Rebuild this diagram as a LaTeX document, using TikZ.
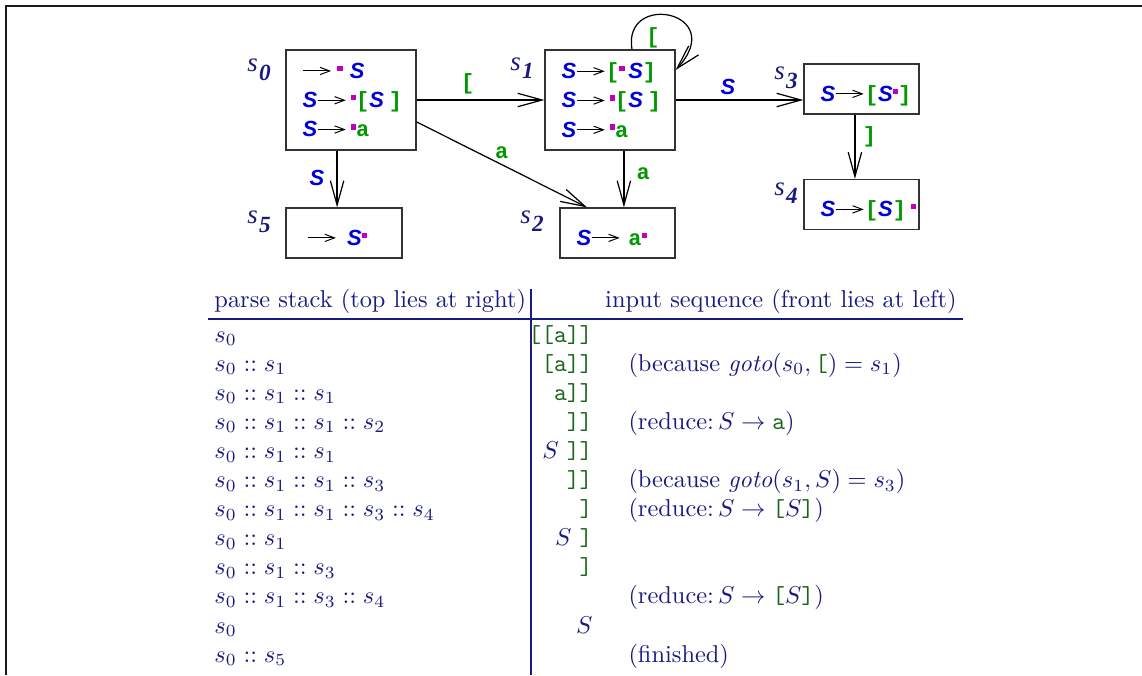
\documentclass[tikz,border=0pt]{standalone}
\usepackage{fontspec}
\usetikzlibrary{arrows.meta}
\newfontfamily\symsans{Liberation Sans}
\newfontfamily\symmono{Liberation Mono}
\newfontfamily\lblfont{Liberation Serif}

\definecolor{stateblue}{rgb}{0.0,0.0,0.85}
\definecolor{tokgreen}{rgb}{0.0,0.6,0.0}
\definecolor{dotmag}{rgb}{0.75,0.0,0.75}
\definecolor{tblnavy}{rgb}{0.1,0.1,0.5}
\definecolor{tblgreen}{rgb}{0.1,0.4,0.1}

% item pieces
\newcommand{\nS}{\textcolor{stateblue}{\symsans\bfseries\itshape S}}
\newcommand{\tk}[1]{\textcolor{tokgreen}{\symmono\bfseries #1}}
\newcommand{\pdot}{\textcolor{dotmag}{\rule[3pt]{2.2pt}{2.2pt}}}
\newcommand{\ra}{\tikz[baseline=-3pt]\draw[-{Straight Barb[length=4pt,width=3pt]}] (0,0) -- (11.5pt,0);}
\newcommand{\tc}[1]{\textcolor{tblgreen}{\texttt{#1}}}
\newcommand{\stlbl}[1]{\textcolor{tblnavy}{\lblfont\itshape\fontsize{11}{11}\selectfont s\kern0.5pt\raisebox{-3.5pt}{\fontsize{9.5}{9.5}\selectfont\bfseries #1}}}

\tikzset{
  statebox/.style={draw=black!80, line width=0.5pt, inner xsep=6.8pt, inner ysep=0pt,
    align=left, font=\fontsize{9}{12}\selectfont},
  bigbox/.style={statebox, minimum width=53.3pt, minimum height=41pt, text width=39.7pt},
  smallbox/.style={statebox, minimum width=47.2pt, minimum height=20.5pt, text width=33.6pt,
    text height=11pt, text depth=1pt},
  edge/.style={-{Straight Barb[length=10pt,width=5.5pt]}, line width=0.5pt},
  elabel/.style={font=\fontsize{9}{12}\selectfont, inner sep=2pt},
  tblcell/.style={inner sep=0pt, text=tblnavy, font=\fontsize{10}{12}\selectfont}
}

\begin{document}
\begin{tikzpicture}[x=0.41pt,y=-0.41pt]
  \useasboundingbox (0,0) rectangle (1142,675);
  \draw[line width=0.8pt, black!90] (6,675) -- (6,6) -- (1142,6);

  % states
  \node[bigbox] (s0) at (351,100)
    {\ra\kern2pt\pdot\kern3pt\nS\\
     \nS\ra\kern1.5pt\pdot\tk{[}\nS\kern2pt\tk{]}\\
     \nS\ra\kern1.5pt\pdot\tk{a}};
  \node[bigbox] (s1) at (610,100)
    {\nS\ra\tk{[}\pdot\kern1.5pt\nS\tk{]}\\
     \nS\ra\kern1.5pt\pdot\tk{[}\nS\kern2pt\tk{]}\\
     \nS\ra\kern1.5pt\pdot\tk{a}};
  \node[smallbox] (s3) at (861.5,89) {\nS\ra\tk{[}\nS\pdot\tk{]}};
  \node[smallbox] (s4) at (861.5,204.5) {\nS\ra\tk{[}\nS\tk{]}\kern2pt\pdot};
  \node[smallbox, minimum width=47.6pt, text width=34pt] (s5) at (344,233)
    {\kern2pt\ra\kern4pt\nS\pdot};
  \node[smallbox] (s2) at (617.5,233) {\nS\ra\kern3pt\tk{a}\pdot};

  % state names
  \node (l0) at (259,70) {\stlbl{0}};
  \node (l1) at (522,68) {\stlbl{1}};
  \node (l2) at (532,221) {\stlbl{2}};
  \node (l3) at (786,78) {\stlbl{3}};
  \node (l4) at (786,193) {\stlbl{4}};
  \node (l5) at (259,222) {\stlbl{5}};

  % transitions
  \draw[edge] (s0.east) -- node[elabel, pos=0.4, above] (e01) {\tk{[}} (s1.west);
  \draw[edge] (s1.east) -- node[elabel, pos=0.41, above] (e13) {\nS} (s1.east -| s3.west);
  \draw[edge] ([xshift=-5.7pt]s0.south) -- node[elabel, pos=0.48, left, inner sep=5pt] (e05) {\nS}
    ([xshift=-5.7pt]s0.south |- s5.north);
  \draw[edge] ([yshift=-9pt]s0.east) -- node[elabel, midway, above] (e02) {\tk{a}}
    ([xshift=-12.5pt]s2.north);
  \draw[edge] ([xshift=5.7pt]s1.south) -- node[elabel, pos=0.41, right, inner sep=5pt] (e12) {\tk{a}}
    ([xshift=5.7pt]s1.south |- s2.north);
  \draw[edge] ([xshift=-2.7pt]s3.south) -- node[elabel, pos=0.35, right, inner sep=3pt] (e34) {\tk{]}}
    ([xshift=-2.7pt]s3.south |- s4.north);
  \draw[edge] ([xshift=9pt]s1.north) .. controls +(-4pt,24pt) and +(22pt,24pt) ..
    ([yshift=12.3pt]s1.east);
  \node[elabel] (e11) at (653,38) {\tk{[}};

  % table
  \node[tblcell, anchor=base west] (hstack) at (214,307) {parse stack (top lies at right)};
  \node[tblcell, anchor=base east] (hinput) at (957,307) {input sequence (front lies at left)};
  \draw[tblnavy, line width=0.8pt] (208,319) -- (963,319);
  \draw[tblnavy, line width=0.8pt] (531,289) -- (531,675);

  \foreach \stk/\inp/\cmt [count=\i from 0] in {
      {$s_0$}/{\tc{[[a]]}}/{},
      {$s_0 :: s_1$}/{\tc{[a]]}}/{(because $\mathit{goto}(s_0,\tc{[})=s_1$)},
      {$s_0 :: s_1 :: s_1$}/{\tc{a]]}}/{},
      {$s_0 :: s_1 :: s_1 :: s_2$}/{\tc{]]}}/{(reduce:\,$S\rightarrow\tc{a}$)},
      {$s_0 :: s_1 :: s_1$}/{$S$ \tc{]]}}/{},
      {$s_0 :: s_1 :: s_1 :: s_3$}/{\tc{]]}}/{(because $\mathit{goto}(s_1,S)=s_3$)},
      {$s_0 :: s_1 :: s_1 :: s_3 :: s_4$}/{\tc{]}}/{(reduce:\,$S\rightarrow\tc{[}S\tc{]}$)},
      {$s_0 :: s_1$}/{$S$ \tc{]}}/{},
      {$s_0 :: s_1 :: s_3$}/{\tc{]}}/{},
      {$s_0 :: s_1 :: s_3 :: s_4$}/{}/{(reduce:\,$S\rightarrow\tc{[}S\tc{]}$)},
      {$s_0$}/{$S$}/{},
      {$s_0 :: s_5$}/{}/{(finished)}} {
    \node[tblcell, anchor=base west] (stk\i) at (214,{342+29.1*\i}) {\stk};
    \node[tblcell, anchor=base east] (inp\i) at (593,{342+29.1*\i}) {\inp};
    \node[tblcell, anchor=base west] (cmt\i) at (628,{342+29.1*\i}) {\cmt};
  }
\end{tikzpicture}
\end{document}
